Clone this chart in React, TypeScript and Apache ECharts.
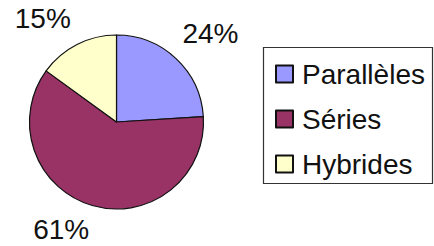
import React, { useEffect, useRef } from "react";
import * as echarts from "echarts";

const categories = ["Parallèles", "Séries", "Hybrides"];
const values = [24, 61, 15];
const colors = ["#9999FF", "#993366", "#FFFFCC"];
// label nudges (style only)
const labelNudge = [
  [-11, -12],
  [7, 7],
  [7, -10],
];

export default function App() {
  const ref = useRef<HTMLDivElement>(null);
  useEffect(() => {
    const chart = echarts.init(ref.current!, null, { renderer: "svg" });
    chart.setOption({
      animation: false,
      backgroundColor: "#ffffff",
      textStyle: { fontFamily: "Liberation Sans, Arial, sans-serif" },
      graphic: [
        {
          type: "rect",
          shape: { x: 263.5, y: 47.5, width: 169, height: 136 },
          style: { fill: "none", stroke: "#333", lineWidth: 1.2 },
          z: 10,
        },
      ],
      legend: {
        orient: "vertical",
        left: 275,
        top: 60,
        padding: 0,
        itemWidth: 17,
        itemHeight: 17,
        itemGap: 17,
        icon: "rect",
        textStyle: { fontSize: 28, lineHeight: 28, color: "#111", padding: [0, 0, 0, 4] },
        data: categories,
      },
      series: [
        {
          type: "pie",
          center: [116.5, 122],
          radius: 87,
          startAngle: 90,
          clockwise: true,
          data: categories.map((c, i) => ({
            name: c,
            value: values[i],
            itemStyle: { color: colors[i] },
          })),
          itemStyle: { borderColor: "#111", borderWidth: 1.2 },
          label: {
            show: true,
            position: "outside",
            formatter: "{d}%",
            fontSize: 28,
            color: "#111",
            overflow: "none",
          },
          labelLine: { show: false, length: 18, length2: 0 },
          labelLayout: (p: any) => ({
            dx: labelNudge[p.dataIndex][0],
            dy: labelNudge[p.dataIndex][1],
          }),
        },
      ],
    });
    return () => chart.dispose();
  }, []);
  return <div ref={ref} style={{ width: 434, height: 246, position: "absolute", left: 0, top: 0 }} />;
}
